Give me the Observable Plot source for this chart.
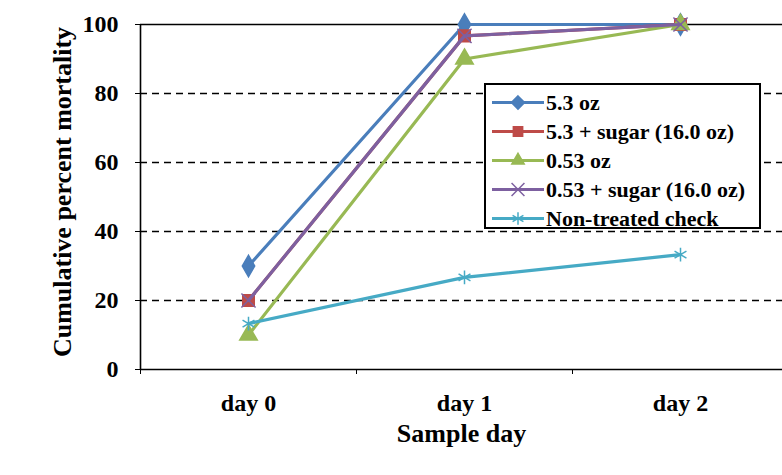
<!DOCTYPE html>
<html>
<head>
<meta charset="utf-8">
<script src="https://cdn.jsdelivr.net/npm/d3@7"></script>
<script src="https://cdn.jsdelivr.net/npm/@observablehq/plot@0.6"></script>
<style>
  html, body { margin: 0; padding: 0; background: #fff; }
  #wrap { position: relative; width: 782px; height: 475px; overflow: hidden; background: #fff; }
  #legend { position: absolute; left: 484px; top: 83px; width: 273px; height: 142px;
            border: 2px solid #000; background: #fff; box-sizing: content-box;
            font-family: "Liberation Serif", "Times New Roman", serif; font-weight: bold; font-size: 22px; }
  .row { position: absolute; left: 0; height: 29px; display: flex; align-items: center; white-space: nowrap; }
  .row svg { flex: none; }
</style>
</head>
<body>
<div id="wrap"><div id="chart"></div><div id="legend"></div></div>
<script>
const days = ["day 0", "day 1", "day 2"];
const series = ["5.3 oz", "5.3 + sugar (16.0 oz)", "0.53 oz", "0.53 + sugar (16.0 oz)", "Non-treated check"];
const v53 = [30, 100, 100];
const v53Sugar = [20, 96.7, 100];
const v053 = [10, 90, 100];
const v053Sugar = [20, 96.7, 100];
const vCheck = [13.3, 26.7, 33.3];
const yTicks = [0, 20, 40, 60, 80, 100];
const colors = ["#4a7ebb", "#be4b48", "#98b954", "#7d60a0", "#46aac5"];
const symbols = ["diamond", "square", "triangle", "times", "asterisk"];

const values = [v53, v53Sugar, v053, v053Sugar, vCheck];
const rows = series.flatMap((s, si) => values[si].map((v, i) => ({series: s, day: i, value: v})));
const dayIdx = days.map((d, i) => i);
const bounds = [-0.5, ...dayIdx.map(i => i + 0.5)];

const seriesMarks = series.flatMap(s => {
  const data = rows.filter(r => r.series === s);
  return [
    Plot.line(data, {x: "day", y: "value", stroke: "series", strokeWidth: 3.2}),
    Plot.dot(data, {x: "day", y: "value", fill: "series", stroke: "series", symbol: "series", r: 6.5, strokeWidth: 1.5})
  ];
});

const chart = Plot.plot({
  width: 782, height: 475,
  marginLeft: 140, marginRight: 0, marginTop: 24, marginBottom: 106,
  style: {fontFamily: "'Liberation Serif', 'Times New Roman', serif", fontWeight: "bold", fontSize: "24px", color: "#000", background: "transparent"},
  x: {type: "linear", domain: [-0.5, days.length - 0.5], range: [140, 788]},
  y: {domain: [0, 100]},
  color: {domain: series, range: colors},
  symbol: {domain: series, range: symbols},
  marks: [
    Plot.ruleY(yTicks.filter(t => t > 0 && t < 100), {stroke: "#000", strokeWidth: 1.6, strokeDasharray: "7,5"}),
    Plot.ruleY([0, 100], {stroke: "#000", strokeWidth: 1.6}),
    Plot.ruleX([-0.5], {y1: 0, y2: 100, stroke: "#000", strokeWidth: 1.6}),
    Plot.axisY({ticks: yTicks, tickSize: 5, tickPadding: 17, label: null}),
    Plot.axisX({ticks: dayIdx, tickFormat: i => days[i], tickSize: 0, tickPadding: 24, label: null}),
    Plot.axisX({ticks: bounds, tickFormat: () => "", tickSize: 5, label: null}),
    Plot.text(["Sample day"], {frameAnchor: "bottom", dy: 72, fontSize: 26, fontWeight: "bold"}),
    Plot.text(["Cumulative percent mortality"], {frameAnchor: "left", textAnchor: "middle", dx: -78, dy: -5, rotate: -90, fontSize: 26, fontWeight: "bold"}),
    ...seriesMarks
  ]
});
document.getElementById("chart").appendChild(chart);

// legend
const legend = d3.select("#legend");
const symMap = {diamond: d3.symbolDiamond2, square: d3.symbolSquare2, triangle: d3.symbolTriangle2, times: d3.symbolTimes, asterisk: d3.symbolAsterisk};
series.forEach((s, i) => {
  const row = legend.append("div").attr("class", "row").style("top", (3 + i * 29) + "px");
  const svg = row.append("svg").attr("width", 60).attr("height", 29);
  svg.append("line").attr("x1", 6).attr("x2", 58).attr("y1", 14.5).attr("y2", 14.5)
     .attr("stroke", colors[i]).attr("stroke-width", 3.2);
  svg.append("path").attr("transform", "translate(32,14.5)")
     .attr("d", d3.symbol(symMap[symbols[i]], 110)())
     .attr("fill", colors[i]).attr("stroke", colors[i]).attr("stroke-width", 1.5);
  row.append("span").text(s);
});
</script>
</body>
</html>
